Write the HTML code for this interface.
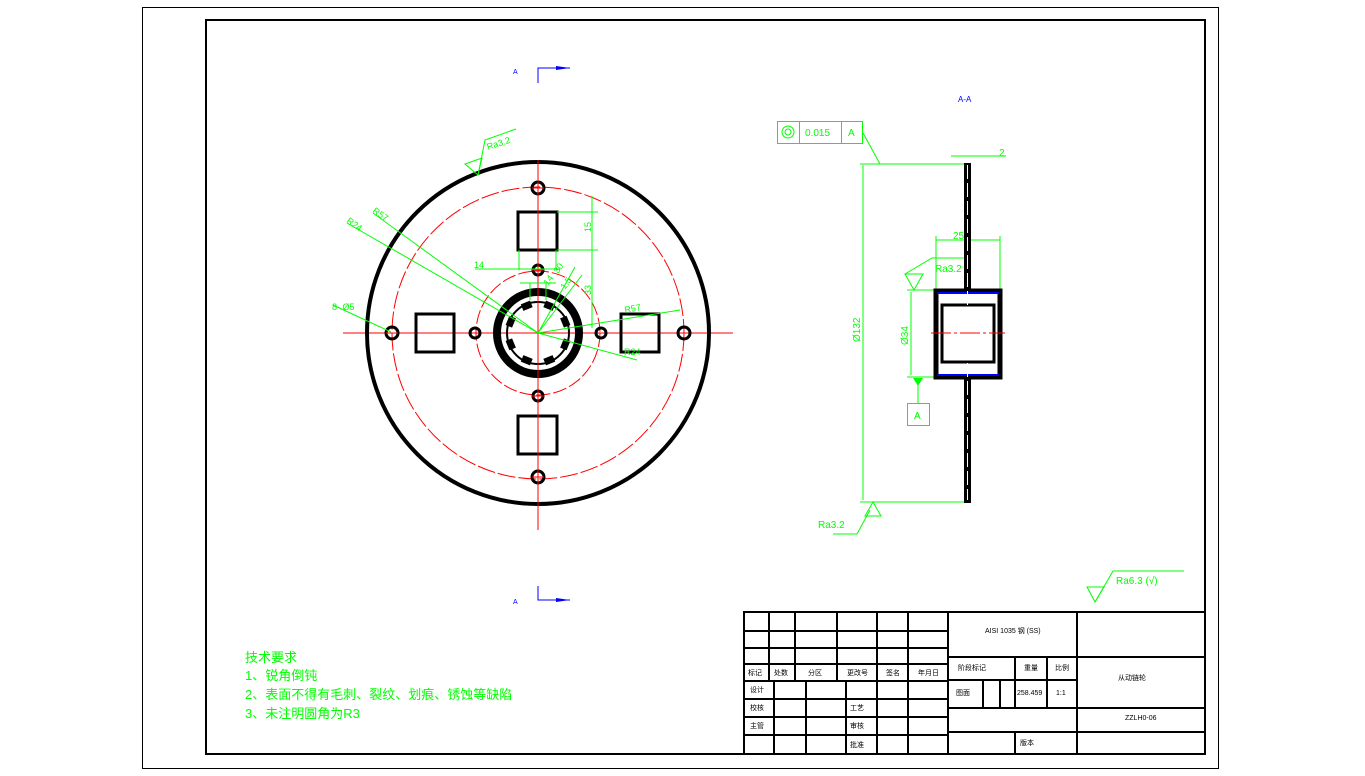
<!DOCTYPE html>
<html><head><meta charset="utf-8"><style>
html,body{margin:0;padding:0;background:#fff;}
svg{display:block;}
text{font-family:"Liberation Sans","Noto Sans CJK SC",sans-serif;}
</style></head><body>
<svg width="1365" height="776" viewBox="0 0 1365 776" xmlns="http://www.w3.org/2000/svg">
<rect x="142.5" y="7.5" width="1076" height="761" fill="none" stroke="#000" stroke-width="1"/>
<rect x="206" y="20" width="999" height="734" fill="none" stroke="#000" stroke-width="2"/>

<g fill="#00f" stroke="#00f">
<text x="513" y="74" font-size="7" stroke="none">A</text>
<polyline points="538,83 538,68 570,68" fill="none" stroke-width="1"/>
<polygon points="556,66 570,68 556,70" stroke="none"/>
<text x="513" y="604" font-size="7" stroke="none">A</text>
<polyline points="538,586 538,600 570,600" fill="none" stroke-width="1"/>
<polygon points="556,598 570,600 556,602" stroke="none"/>
<text x="958" y="102" font-size="8" stroke="none">A-A</text>
</g>

<g stroke="#f00" fill="none" stroke-width="1">
<line x1="538" y1="160" x2="538" y2="530"/>
<line x1="343" y1="333" x2="733" y2="333"/>
<circle cx="538" cy="333" r="146" stroke-dasharray="18 3"/>
<circle cx="538" cy="333" r="62" stroke-dasharray="14 3"/>
</g>
<g stroke="#000" fill="none">
<circle cx="538" cy="333" r="171" stroke-width="4"/>
<circle cx="538" cy="333" r="41" stroke-width="8"/>
<circle cx="538" cy="333" r="31" stroke-width="2"/>
<g stroke-width="3">
<circle cx="538" cy="188" r="6"/><circle cx="538" cy="477" r="6"/>
<circle cx="392" cy="333" r="6"/><circle cx="684" cy="333" r="6"/>
<circle cx="538" cy="270" r="5"/><circle cx="538" cy="396" r="5"/>
<circle cx="475" cy="333" r="5"/><circle cx="601" cy="333" r="5"/>
<rect x="518" y="212" width="39" height="38"/>
<rect x="518" y="416" width="39" height="38"/>
<rect x="416" y="314" width="38" height="38"/>
<rect x="621" y="314" width="38" height="38"/>
</g>
</g>
<g fill="#000">
<g transform="translate(538 333)">
<rect x="-5" y="-33" width="10" height="7" transform="rotate(22.5)"/>
<rect x="-5" y="-33" width="10" height="7" transform="rotate(67.5)"/>
<rect x="-5" y="-33" width="10" height="7" transform="rotate(112.5)"/>
<rect x="-5" y="-33" width="10" height="7" transform="rotate(157.5)"/>
<rect x="-5" y="-33" width="10" height="7" transform="rotate(202.5)"/>
<rect x="-5" y="-33" width="10" height="7" transform="rotate(247.5)"/>
<rect x="-5" y="-33" width="10" height="7" transform="rotate(292.5)"/>
<rect x="-5" y="-33" width="10" height="7" transform="rotate(337.5)"/>
</g>
</g>
<g stroke="#f00" stroke-width="1">
<line x1="532" y1="188" x2="544" y2="188"/><line x1="532" y1="477" x2="544" y2="477"/>
<line x1="532" y1="396" x2="544" y2="396"/><line x1="386" y1="333" x2="398" y2="333"/>
<line x1="532" y1="270" x2="544" y2="270"/>
<line x1="538" y1="160" x2="538" y2="530"/>
</g>

<g stroke="#0f0" fill="none" stroke-width="1">
<polygon points="465,164 482,158 478,175"/>
<polyline points="478,175 485,140 516,129"/>
<line x1="373" y1="213" x2="538" y2="333"/>
<line x1="347" y1="223" x2="538" y2="333"/>
<line x1="333" y1="305" x2="391" y2="332"/>
<line x1="538" y1="333" x2="680" y2="310"/>
<line x1="538" y1="333" x2="637" y2="360"/>
<line x1="557" y1="212" x2="598" y2="212"/>
<line x1="557" y1="250" x2="598" y2="250"/>
<line x1="592" y1="196" x2="592" y2="328"/>
<line x1="519" y1="250" x2="519" y2="270"/>
<line x1="556" y1="250" x2="556" y2="270"/>
<line x1="475" y1="269" x2="560" y2="269"/>
<line x1="530" y1="283" x2="530" y2="300"/><line x1="546" y1="283" x2="546" y2="300"/>
<line x1="520" y1="283" x2="556" y2="283"/>
<line x1="538" y1="333" x2="575" y2="267"/>
<line x1="538" y1="333" x2="582" y2="275"/>
</g>
<g fill="#0f0" font-size="9">
<text x="488" y="150" transform="rotate(-18 488 150)">Ra3.2</text>
<text x="372" y="212" transform="rotate(35 372 212)">R57</text>
<text x="346" y="222" transform="rotate(35 346 222)">R24</text>
<text x="332" y="310">8- Ø5</text>
<text x="474" y="268">14</text>
<text x="591" y="232" transform="rotate(-90 591 232)">15</text>
<text x="591" y="295" transform="rotate(-90 591 295)">33</text>
<text x="625" y="313" transform="rotate(-10 625 313)">R57</text>
<text x="624" y="355">R24</text>
<text x="558" y="274" transform="rotate(-55 558 274)">30</text>
<text x="548" y="286" transform="rotate(-55 548 286)">14</text>
<text x="565" y="290" transform="rotate(-55 565 290)">1.5</text>
</g>

<g stroke="#0f0" fill="none" stroke-width="1">
<rect x="777.5" y="121.5" width="85" height="22"/>
<line x1="799.5" y1="121.5" x2="799.5" y2="143.5"/>
<line x1="841.5" y1="121.5" x2="841.5" y2="143.5"/>
<circle cx="788" cy="132" r="6"/><circle cx="788" cy="132" r="3"/>
<polyline points="863,133 880,164"/>
<line x1="860" y1="164" x2="966" y2="164"/>
<line x1="951" y1="156" x2="1006" y2="156"/>
<line x1="863" y1="165" x2="863" y2="500"/>
<line x1="860" y1="502" x2="966" y2="502"/>
<polygon points="873,502 865,516 881,516"/>
<polyline points="857,534 833,534"/>
<polyline points="857,534 870,510"/>
<line x1="936" y1="236" x2="936" y2="291"/>
<line x1="1000" y1="236" x2="1000" y2="291"/>
<line x1="936" y1="240" x2="1000" y2="240"/>
<polyline points="905,274 932,258 966,258"/>
<polygon points="905,274 914,290 923,274"/>
<line x1="907" y1="290" x2="935" y2="290"/>
<line x1="907" y1="377" x2="935" y2="377"/>
<line x1="911" y1="292" x2="911" y2="375"/>
<line x1="918" y1="382" x2="918" y2="403"/>
<rect x="907.5" y="403.5" width="22" height="22"/>
</g>
<polygon points="913,378 923,378 918,386" fill="#0f0"/>
<g fill="#0f0" font-size="10">
<text x="805" y="136">0.015</text>
<text x="848" y="136">A</text>
<text x="999" y="156">2</text>
<text x="953" y="239">25</text>
<text x="935" y="272">Ra3.2</text>
<text x="860" y="342" transform="rotate(-90 860 342)">Ø132</text>
<text x="908" y="345" transform="rotate(-90 908 345)">Ø34</text>
<text x="914" y="419">A</text>
<text x="818" y="528">Ra3.2</text>
</g>
<g>
<rect x="964" y="163" width="7" height="127" fill="#000"/>
<rect x="964" y="377" width="7" height="126" fill="#000"/>
<rect x="936" y="291" width="64" height="86" fill="none" stroke="#000" stroke-width="5"/>
<rect x="942" y="305" width="52" height="57" fill="none" stroke="#000" stroke-width="3"/>
<line x1="937" y1="293" x2="999" y2="293" stroke="#00f" stroke-width="2"/>
<line x1="937" y1="375" x2="999" y2="375" stroke="#00f" stroke-width="2"/>
<line x1="967.5" y1="165" x2="967.5" y2="500" stroke="#fff" stroke-width="1" stroke-dasharray="14 4"/>
<line x1="931" y1="333" x2="1005" y2="333" stroke="#f00" stroke-width="1" stroke-dasharray="20 3 3 3"/>
</g>

<g stroke="#0f0" fill="none" stroke-width="1">
<polygon points="1087,587 1104,587 1095,602"/>
<polyline points="1095,602 1113,571 1184,571"/>
</g>
<text x="1116" y="584" fill="#0f0" font-size="10">Ra6.3 (√)</text>

<g fill="#0f0" font-size="13">
<text x="245" y="662">技术要求</text>
<text x="245" y="680">1、锐角倒钝</text>
<text x="245" y="699">2、表面不得有毛刺、裂纹、划痕、锈蚀等缺陷</text>
<text x="245" y="718">3、未注明圆角为R3</text>
</g>

<g stroke="#000" stroke-width="2" fill="none">
<rect x="744" y="612" width="461" height="142"/>
<line x1="948" y1="612" x2="948" y2="754"/>
<line x1="1077" y1="612" x2="1077" y2="754"/>
<line x1="744" y1="631" x2="948" y2="631"/>
<line x1="744" y1="648" x2="948" y2="648"/>
<line x1="744" y1="664" x2="948" y2="664"/>
<line x1="744" y1="681" x2="948" y2="681"/>
<line x1="744" y1="699" x2="948" y2="699"/>
<line x1="744" y1="717" x2="948" y2="717"/>
<line x1="744" y1="735" x2="948" y2="735"/>
<line x1="769" y1="612" x2="769" y2="681"/>
<line x1="795" y1="612" x2="795" y2="681"/>
<line x1="837" y1="612" x2="837" y2="681"/>
<line x1="877" y1="612" x2="877" y2="754"/>
<line x1="908" y1="612" x2="908" y2="754"/>
<line x1="774" y1="681" x2="774" y2="754"/>
<line x1="806" y1="681" x2="806" y2="754"/>
<line x1="846" y1="681" x2="846" y2="754"/>
<line x1="948" y1="657" x2="1205" y2="657"/>
<line x1="948" y1="680" x2="1077" y2="680"/>
<line x1="948" y1="708" x2="1205" y2="708"/>
<line x1="948" y1="732" x2="1205" y2="732"/>
<line x1="1015" y1="657" x2="1015" y2="708"/>
<line x1="1047" y1="657" x2="1047" y2="708"/>
<line x1="983" y1="680" x2="983" y2="708"/>
<line x1="1000" y1="680" x2="1000" y2="708"/>
<line x1="1015" y1="732" x2="1015" y2="754"/>
</g>
<g fill="#000" font-size="7">
<text x="748" y="675">标记</text><text x="774" y="675">处数</text>
<text x="808" y="675">分区</text><text x="847" y="675">更改号</text>
<text x="886" y="675">签名</text><text x="918" y="675">年月日</text>
<text x="750" y="692">设计</text><text x="750" y="710">校核</text>
<text x="750" y="728">主管</text>
<text x="850" y="710">工艺</text><text x="850" y="728">审核</text><text x="850" y="747">批准</text>
<text x="985" y="633">AISI 1035 钢 (SS)</text>
<text x="958" y="670">阶段标记</text><text x="1024" y="670">重量</text><text x="1055" y="670">比例</text>
<text x="956" y="695">图面</text><text x="1017" y="695">258.459</text><text x="1056" y="695">1:1</text>
<text x="1118" y="680">从动链轮</text>
<text x="1125" y="720">ZZLH0-06</text>
<text x="1020" y="745">版本</text>
</g>
</svg>
</body></html>
